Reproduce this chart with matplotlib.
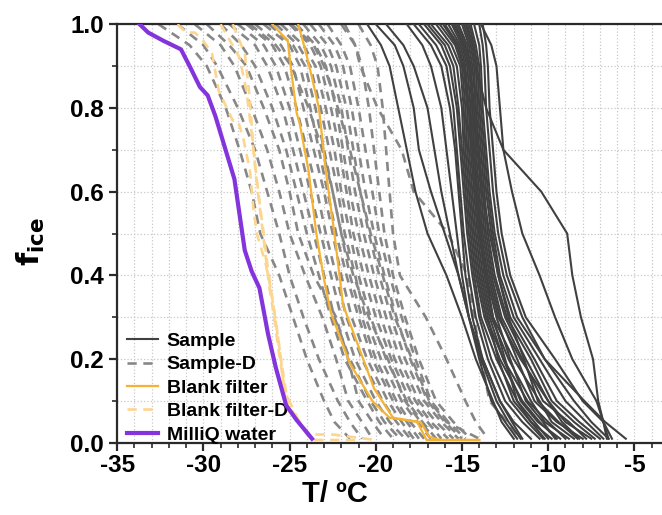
import matplotlib
matplotlib.use("Agg")
import matplotlib.pyplot as plt
from matplotlib.ticker import MultipleLocator

plt.rcParams['font.family'] = ['Liberation Sans', 'DejaVu Sans']
plt.rcParams['font.weight'] = 'bold'
plt.rcParams['axes.unicode_minus'] = False

f_levels = [1.0, 0.95, 0.9, 0.8, 0.7, 0.6, 0.5, 0.4, 0.3, 0.2, 0.1, 0.05, 0.01]

# Sample (solid, dark) - temperature at each f level
sample_T = [
    [-20.5, -19.7, -19.2, -18.7, -18.2, -17.7, -17.0, -15.9, -15.0, -14.2, -13.2, -12.7, -12.0],
    [-20.0, -18.9, -18.4, -17.8, -17.5, -16.8, -16.0, -15.2, -14.6, -13.8, -12.8, -12.1, -11.5],
    [-19.4, -18.4, -17.8, -17.0, -16.6, -16.2, -15.7, -15.2, -14.6, -13.9, -13.0, -12.3, -11.6],
    [-18.2, -17.3, -16.8, -16.2, -15.9, -15.6, -15.3, -15.0, -14.6, -14.0, -13.3, -12.5, -11.8],
    [-17.8, -16.8, -16.2, -15.7, -15.4, -15.2, -15.0, -14.8, -14.4, -13.8, -12.8, -12.0, -11.0],
    [-17.5, -16.5, -15.9, -15.5, -15.3, -15.1, -14.9, -14.6, -14.2, -13.5, -12.5, -11.5, -10.5],
    [-17.2, -16.2, -15.7, -15.3, -15.1, -14.9, -14.7, -14.4, -14.0, -13.3, -12.2, -11.2, -10.3],
    [-17.0, -16.0, -15.5, -15.2, -15.0, -14.8, -14.6, -14.3, -13.9, -13.0, -11.8, -10.8, -10.0],
    [-16.8, -15.8, -15.3, -15.0, -14.9, -14.7, -14.5, -14.2, -13.7, -12.8, -11.5, -10.5, -9.5],
    [-16.5, -15.6, -15.1, -14.9, -14.8, -14.6, -14.4, -14.1, -13.6, -12.6, -11.2, -10.0, -9.0],
    [-16.3, -15.4, -15.0, -14.8, -14.7, -14.5, -14.3, -14.0, -13.5, -12.9, -12.0, -11.0, -9.8],
    [-16.0, -15.2, -14.9, -14.7, -14.6, -14.4, -14.2, -13.9, -13.4, -12.6, -11.6, -10.6, -9.3],
    [-15.8, -15.1, -14.8, -14.6, -14.5, -14.3, -14.1, -13.8, -13.3, -12.3, -11.0, -10.2, -8.8],
    [-15.6, -15.0, -14.7, -14.5, -14.4, -14.2, -14.0, -13.7, -13.2, -12.0, -10.5, -9.8, -8.5],
    [-15.5, -14.9, -14.6, -14.4, -14.3, -14.1, -13.9, -13.5, -12.9, -11.6, -10.0, -9.2, -8.2],
    [-15.3, -14.8, -14.5, -14.4, -14.3, -14.1, -13.9, -13.6, -13.2, -12.5, -11.8, -11.0, -10.2],
    [-15.2, -14.7, -14.5, -14.3, -14.2, -14.0, -13.8, -13.4, -12.8, -11.8, -10.8, -9.5, -8.0],
    [-15.0, -14.6, -14.4, -14.2, -14.1, -13.9, -13.7, -13.3, -12.7, -11.5, -10.3, -8.8, -7.8],
    [-14.9, -14.5, -14.3, -14.2, -14.0, -13.8, -13.6, -13.2, -12.5, -11.3, -10.0, -9.0, -7.5],
    [-14.8, -14.4, -14.2, -14.1, -13.9, -13.7, -13.5, -13.1, -12.4, -11.0, -9.8, -8.5, -7.3],
    [-14.6, -14.3, -14.1, -14.0, -13.8, -13.6, -13.3, -12.9, -12.2, -10.8, -9.5, -8.2, -7.0],
    [-14.5, -14.2, -14.0, -13.9, -13.7, -13.5, -13.2, -12.8, -12.0, -10.5, -9.0, -7.8, -6.8],
    [-14.3, -14.0, -13.9, -13.8, -13.6, -13.4, -13.1, -12.6, -11.8, -10.2, -8.5, -7.5, -6.5],
    [-14.0, -13.8, -13.7, -13.6, -13.4, -13.2, -12.9, -12.4, -11.5, -10.2, -7.9, -6.7, -5.5],
    [-13.8, -13.6, -13.5, -13.4, -13.2, -13.0, -12.7, -12.2, -11.3, -9.6, -8.0, -6.8, -6.3],
    [-14.7, -14.4, -14.2, -13.6, -12.6, -10.4, -8.9, -8.6, -8.1, -7.4, -7.1, -6.8, -6.5],
    [-13.9, -13.3, -13.0, -12.8, -12.6, -12.1, -11.5, -10.5, -9.6, -8.6, -7.2, -6.8, -6.6],
    [-15.4, -14.9, -14.6, -14.3, -14.1, -13.8, -13.4, -12.9, -12.3, -11.4, -10.6, -9.4, -8.3],
    [-16.1, -15.3, -14.9, -14.6, -14.4, -14.2, -14.0, -13.6, -13.0, -12.2, -11.3, -10.3, -9.6],
]

# Sample-D (dashed, grey)
sample_d_T = [
    [-32.6, -30.8, -29.8, -28.7, -27.9, -27.2, -26.7, -25.6, -24.8, -24.0, -23.0, -22.4, -21.5],
    [-31.5, -30.0, -29.2, -28.0, -27.0, -26.3, -25.6, -25.0, -24.2, -23.3, -22.2, -21.5, -20.8],
    [-30.5, -29.0, -28.2, -27.2, -26.3, -25.6, -25.0, -24.1, -23.1, -22.3, -21.6, -20.8, -20.2],
    [-29.8, -28.5, -27.5, -26.5, -25.6, -25.0, -24.5, -23.6, -22.3, -21.6, -21.0, -20.2, -19.5],
    [-29.0, -27.8, -27.0, -26.0, -25.2, -24.6, -24.0, -23.3, -22.6, -21.8, -20.5, -19.8, -19.0],
    [-28.5, -27.0, -26.3, -25.4, -24.8, -24.2, -23.6, -23.0, -22.4, -21.5, -20.3, -19.5, -18.6],
    [-28.0, -26.5, -25.8, -25.0, -24.4, -23.8, -23.2, -22.6, -22.0, -21.2, -20.0, -19.2, -18.3],
    [-27.5, -26.0, -25.3, -24.6, -24.0, -23.4, -22.9, -22.3, -21.7, -20.8, -19.6, -18.8, -18.0],
    [-27.0, -25.5, -24.8, -24.2, -23.6, -23.0, -22.5, -22.0, -21.4, -20.5, -19.3, -18.5, -17.8],
    [-26.5, -25.0, -24.4, -23.8, -23.3, -22.8, -22.3, -21.7, -21.0, -20.2, -19.0, -18.2, -17.5],
    [-26.2, -24.8, -24.1, -23.5, -23.0, -22.5, -22.0, -21.5, -20.8, -20.0, -18.8, -18.0, -17.2],
    [-25.8, -24.5, -23.8, -23.2, -22.7, -22.2, -21.8, -21.2, -20.6, -19.7, -18.5, -17.6, -16.8],
    [-25.5, -24.2, -23.5, -22.9, -22.4, -22.0, -21.5, -21.0, -20.3, -19.4, -18.2, -17.3, -16.5],
    [-25.0, -23.8, -23.2, -22.6, -22.1, -21.7, -21.3, -20.7, -20.0, -19.1, -18.0, -17.0, -16.2],
    [-24.6, -23.5, -22.9, -22.3, -21.9, -21.5, -21.0, -20.4, -19.7, -18.9, -17.7, -16.8, -15.8],
    [-24.2, -23.2, -22.6, -22.0, -21.6, -21.2, -20.7, -20.1, -19.4, -18.6, -17.5, -16.5, -15.5],
    [-23.8, -22.8, -22.3, -21.7, -21.3, -20.9, -20.4, -19.8, -19.1, -18.3, -17.2, -16.2, -15.2],
    [-23.3, -22.4, -21.9, -21.4, -21.0, -20.6, -20.1, -19.5, -18.8, -18.0, -17.0, -16.0, -15.0],
    [-22.8, -22.0, -21.5, -21.0, -20.6, -20.2, -19.8, -19.2, -18.5, -17.7, -16.8, -15.8, -14.8],
    [-22.0, -21.2, -20.8, -20.4, -20.1, -19.8, -19.5, -19.0, -18.3, -17.5, -16.5, -15.5, -14.5],
    [-21.0, -20.3, -19.9, -19.6, -19.4, -19.2, -19.0, -18.6, -17.1, -15.9, -14.8, -14.2, -13.5],
    [-21.8, -21.2, -20.9, -19.9, -18.5, -17.8, -15.8, -14.7, -14.3, -13.9, -13.4, -12.4, -11.6],
    [-24.9, -23.6, -23.0, -22.2, -21.5, -20.9, -20.3, -19.6, -18.9, -17.9, -16.9, -15.9, -14.0],
    [-27.3, -25.8, -24.9, -23.9, -23.1, -22.5, -22.0, -21.3, -20.4, -19.3, -18.3, -17.4, -16.6],
]

# Blank filter (solid, orange)
blank_T = [
    [-26.0, -25.1, -25.0, -24.6, -24.4, -23.9, -23.45, -23.0, -22.6, -21.5, -20.2, -19.2, -17.4, -16.9, -16.3, -14.0],
    [-24.5, -24.1, -23.8, -23.3, -22.9, -22.4, -21.9, -21.0, -20.1, -19.0, -17.6, -17.05, -14.0],
]
blank_f = [
    [1.0, 0.96, 0.92, 0.79, 0.76, 0.65, 0.50, 0.39, 0.31, 0.19, 0.10, 0.06, 0.05, 0.015, 0.007, 0.007],
    [1.0, 0.94, 0.89, 0.80, 0.65, 0.50, 0.33, 0.23, 0.13, 0.06, 0.05, 0.007, 0.007],
]

# Blank filter-D (dashed, light orange)
blank_d_T = [
    [-31.5, -31.0, -30.5, -30.0, -29.5, -29.1, -28.3, -28.0, -27.7, -27.3, -27.1, -26.9,
     -26.4, -26.1, -25.8, -25.5, -25.3, -25.0, -24.4, -24.0, -23.65, -20.9],
    [-28.3, -27.6, -27.3, -27.1, -26.7, -26.5, -26.3, -26.1, -25.8, -25.5, -25.2, -24.8,
     -24.3, -23.8, -22.5, -20.0],
    [-29.0, -27.9, -27.5, -27.2, -26.9, -26.6, -26.4, -26.2, -25.9, -25.6, -25.3, -24.9,
     -24.4],
]
blank_d_f = [
    [1.0, 0.98, 0.98, 0.96, 0.93, 0.84, 0.77, 0.77, 0.73, 0.65, 0.56, 0.50,
     0.43, 0.37, 0.29, 0.20, 0.12, 0.07, 0.05, 0.02, 0.007, 0.007],
    [1.0, 0.93, 0.82, 0.70, 0.56, 0.50, 0.43, 0.37, 0.29, 0.20, 0.12, 0.08,
     0.04, 0.02, 0.02, 0.007],
    [1.0, 0.92, 0.84, 0.74, 0.62, 0.52, 0.45, 0.38, 0.30, 0.21, 0.13, 0.08,
     0.045],
]

# MilliQ water (thick purple)
milliq_T = [-33.7, -33.2, -32.3, -31.3, -30.8, -30.2, -29.75, -29.3, -28.2, -27.6,
            -27.2, -26.75, -26.25, -25.8, -25.2, -24.6, -23.7]
milliq_f = [1.0, 0.98, 0.96, 0.94, 0.90, 0.85, 0.83, 0.78, 0.63, 0.46,
            0.41, 0.37, 0.26, 0.18, 0.09, 0.055, 0.01]

c_sample = '#404040'
c_sample_d = '#878787'
c_blank = '#f5b335'
c_blank_d = '#fcd58f'
c_milliq = '#8434dc'

fig = plt.figure(figsize=(6.62, 5.15), dpi=100)
ax = fig.add_axes([0.177, 0.140, 0.823, 0.813])

for i, T in enumerate(sample_d_T):
    ax.plot(T, f_levels, color=c_sample_d, lw=1.9, ls=(0, (3.5, 2.5)),
            zorder=2, label='Sample-D' if i == 0 else None)
for i, T in enumerate(sample_T):
    ax.plot(T, f_levels, color=c_sample, lw=1.5, zorder=3,
            label='Sample' if i == 0 else None)
for i, (T, f) in enumerate(zip(blank_d_T, blank_d_f)):
    ax.plot(T, f, color=c_blank_d, lw=1.9, ls=(0, (3.5, 2.5)), zorder=4,
            label='Blank filter-D' if i == 0 else None)
for i, (T, f) in enumerate(zip(blank_T, blank_f)):
    ax.plot(T, f, color=c_blank, lw=1.6, zorder=5,
            label='Blank filter' if i == 0 else None)
ax.plot(milliq_T, milliq_f, color=c_milliq, lw=3, zorder=6, label='MilliQ water')

ax.set_xlim(-35, -3.4)
ax.set_ylim(0, 1.0)
ax.xaxis.set_major_locator(MultipleLocator(5))
ax.xaxis.set_minor_locator(MultipleLocator(1))
ax.yaxis.set_major_locator(MultipleLocator(0.2))
ax.yaxis.set_minor_locator(MultipleLocator(0.1))
ax.yaxis.set_major_formatter(plt.FormatStrFormatter('%.1f'))
ax.grid(which='both', color='#c8c8c8', ls=':', lw=0.9)
ax.set_axisbelow(True)

for s in ['left', 'bottom', 'top']:
    ax.spines[s].set_linewidth(1.6)
    ax.spines[s].set_color('#2a2a2a')
ax.spines['right'].set_visible(False)
ax.tick_params(which='major', length=6, width=1.6, labelsize=17.5, color='#2a2a2a')
ax.tick_params(which='minor', length=3.5, width=1.2, color='#2a2a2a')
ax.tick_params(axis='x', which='both', top=False, pad=2)

ax.set_xlabel('T/ ºC', fontsize=21, fontweight='bold')
ax.xaxis.set_label_coords(0.40, -0.122)
ax.xaxis.label.set_va('center')
ax.set_ylabel(r'$\mathbf{f_{ice}}$', fontsize=22)
ax.yaxis.set_label_coords(-0.158, 0.48)
ax.yaxis.label.set_va('center')

handles, labels = ax.get_legend_handles_labels()
order = ['Sample', 'Sample-D', 'Blank filter', 'Blank filter-D', 'MilliQ water']
hmap = dict(zip(labels, handles))
ax.legend([hmap[k] for k in order], order, loc='lower left',
          bbox_to_anchor=(0.0, -0.025), frameon=False, fontsize=14,
          handlelength=1.6, handletextpad=0.45, labelspacing=0.3,
          borderaxespad=0.1)

fig.savefig('out.png', dpi=100)
